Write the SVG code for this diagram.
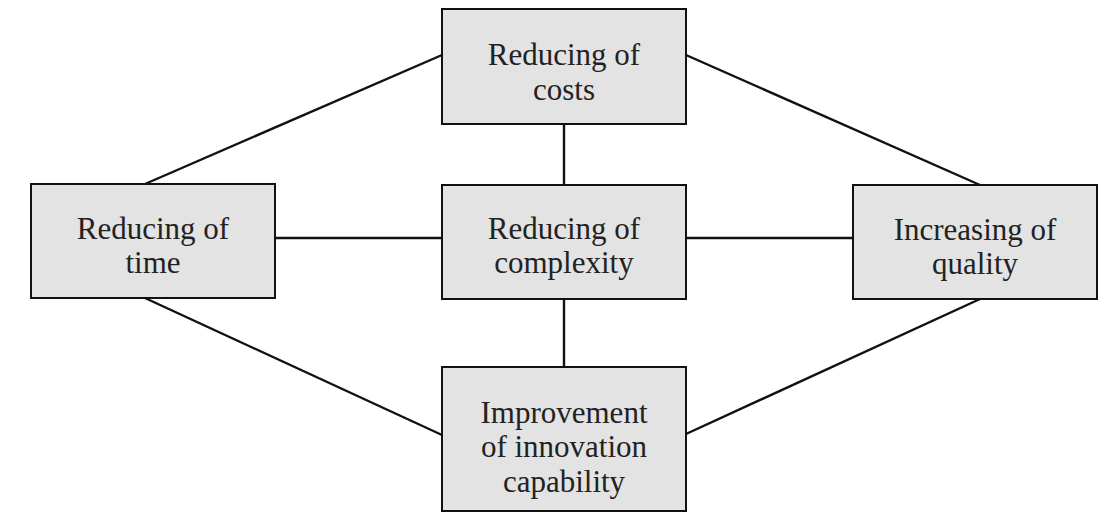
<svg xmlns="http://www.w3.org/2000/svg" width="1107" height="513" viewBox="0 0 1107 513">
  <style>
    .box { fill: #e3e3e3; stroke: #111; stroke-width: 2; }
    .link { stroke: #111; stroke-width: 2.4; fill: none; }
    .lbl { font-family: "Liberation Serif", "Times New Roman", serif; font-size: 31px; fill: #222; text-anchor: middle; }
  </style>
  <rect width="1107" height="513" fill="#ffffff"/>
  <g id="connectors">
    <line class="link" x1="145" y1="184" x2="442" y2="55"/>
    <line class="link" x1="686" y1="55" x2="980" y2="185"/>
    <line class="link" x1="564" y1="124" x2="564" y2="185"/>
    <line class="link" x1="275" y1="238" x2="442" y2="238"/>
    <line class="link" x1="686" y1="238" x2="853" y2="238"/>
    <line class="link" x1="564" y1="299" x2="564" y2="367"/>
    <line class="link" x1="145" y1="298" x2="442" y2="435"/>
    <line class="link" x1="980" y1="299" x2="686" y2="434"/>
  </g>
  <g id="costs">
    <rect class="box" x="442" y="9" width="244" height="115"/>
    <text class="lbl" x="564" y="65">Reducing of</text>
    <text class="lbl" x="564" y="100">costs</text>
  </g>
  <g id="time">
    <rect class="box" x="31" y="184" width="244" height="114"/>
    <text class="lbl" x="153" y="239">Reducing of</text>
    <text class="lbl" x="153" y="273">time</text>
  </g>
  <g id="complexity">
    <rect class="box" x="442" y="185" width="244" height="114"/>
    <text class="lbl" x="564" y="239">Reducing of</text>
    <text class="lbl" x="564" y="273">complexity</text>
  </g>
  <g id="quality">
    <rect class="box" x="853" y="185" width="244" height="114"/>
    <text class="lbl" x="975" y="240">Increasing of</text>
    <text class="lbl" x="975" y="274">quality</text>
  </g>
  <g id="innovation">
    <rect class="box" x="442" y="367" width="244" height="144"/>
    <text class="lbl" x="564" y="423">Improvement</text>
    <text class="lbl" x="564" y="457">of innovation</text>
    <text class="lbl" x="564" y="492">capability</text>
  </g>
</svg>
